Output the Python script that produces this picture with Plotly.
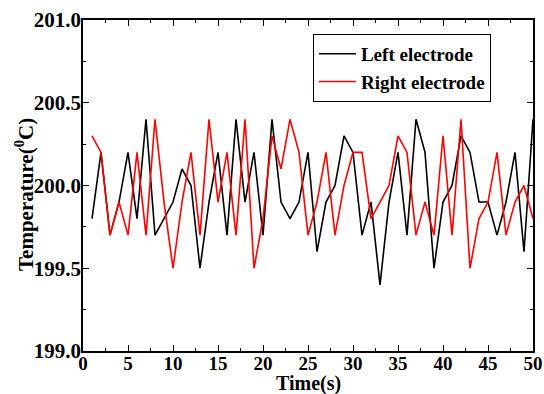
import plotly.graph_objects as go

time_s = list(range(1, 51))
left_electrode = [199.8, 200.2, 199.7, 199.9, 200.2, 199.8, 200.4, 199.7, 199.8, 199.9,
                  200.1, 200.0, 199.5, 199.9, 200.2, 199.7, 200.4, 199.9, 200.2, 199.7,
                  200.4, 199.9, 199.8, 199.9, 200.2, 199.6, 199.9, 200.0, 200.3, 200.2,
                  199.7, 199.9, 199.4, 199.9, 200.2, 199.7, 200.4, 200.2, 199.5, 199.9,
                  200.0, 200.3, 200.2, 199.9, 199.9, 199.7, 199.9, 200.2, 199.6, 200.4]
right_electrode = [200.3, 200.2, 199.7, 199.9, 199.7, 200.2, 199.7, 200.4, 199.9, 199.5,
                   199.9, 200.2, 199.7, 200.4, 199.9, 200.2, 199.7, 200.4, 199.5, 199.8,
                   200.3, 200.1, 200.4, 200.2, 199.7, 199.9, 200.2, 199.7, 200.0, 200.2,
                   200.2, 199.8, 199.9, 200.0, 200.3, 200.2, 199.7, 199.9, 199.7, 200.3,
                   199.7, 200.4, 199.5, 199.8, 199.9, 200.2, 199.7, 199.9, 200.0, 199.8]
x_ticks = [0, 5, 10, 15, 20, 25, 30, 35, 40, 45, 50]
y_ticks = [199.0, 199.5, 200.0, 200.5, 201.0]

FONT = "Liberation Serif"

fig = go.Figure()
fig.add_trace(go.Scatter(x=time_s, y=left_electrode, mode="lines", name="Left electrode",
                         line=dict(color="black", width=1.6)))
fig.add_trace(go.Scatter(x=time_s, y=right_electrode, mode="lines", name="Right electrode",
                         line=dict(color="#ff0000", width=1.6)))

axis_common = dict(
    showline=True, linecolor="black", linewidth=1.5, mirror="ticks",
    ticks="inside", ticklen=6, tickwidth=1.2, tickcolor="black",
    showgrid=False, zeroline=False, automargin=False,
)

fig.update_xaxes(range=[0, 50], tickvals=x_ticks, ticktext=[str(v) for v in x_ticks],
                 minor=dict(ticks="inside", ticklen=3, dtick=2.5, tickcolor="black", tickwidth=1.2),
                 tickfont=dict(family=FONT, size=19, color="black", weight="bold"),
                 ticklabelstandoff=-6,
                 **axis_common)
fig.update_yaxes(range=[199.0, 201.0], tickvals=y_ticks, ticktext=[f"{v:.1f}" for v in y_ticks],
                 minor=dict(ticks="inside", ticklen=3, dtick=0.25, tickcolor="black", tickwidth=1.2),
                 tickfont=dict(family=FONT, size=21, color="black", weight="bold"),
                 ticklabelstandoff=-4,
                 **axis_common)

fig.add_annotation(text="<b>Time(s)</b>", xref="paper", yref="paper",
                   x=0.5, y=(351 - 383.5) / 331, xanchor="center", yanchor="middle",
                   showarrow=False, font=dict(family=FONT, size=20, color="black"))
fig.add_annotation(text="<b>Temperature(<sup>0</sup>C)</b>", xref="paper", yref="paper",
                   x=(24 - 83) / 450, y=(351 - 194) / 331, xanchor="center", yanchor="middle",
                   textangle=-90, showarrow=False, font=dict(family=FONT, size=21, color="black"))

fig.update_layout(
    width=544, height=394,
    margin=dict(l=83, r=11, t=20, b=43, autoexpand=False),
    paper_bgcolor="white", plot_bgcolor="white",
    showlegend=True,
    legend=dict(x=0.511, y=0.958, xanchor="left", yanchor="top",
                bgcolor="white", bordercolor="black", borderwidth=1,
                font=dict(family=FONT, size=19, color="black", weight="bold"),
                tracegroupgap=0, itemwidth=37),
)

fig.write_html("out.html", config={"displayModeBar": False},
               post_script="document.body.style.margin='0';document.body.style.overflow='hidden';")
